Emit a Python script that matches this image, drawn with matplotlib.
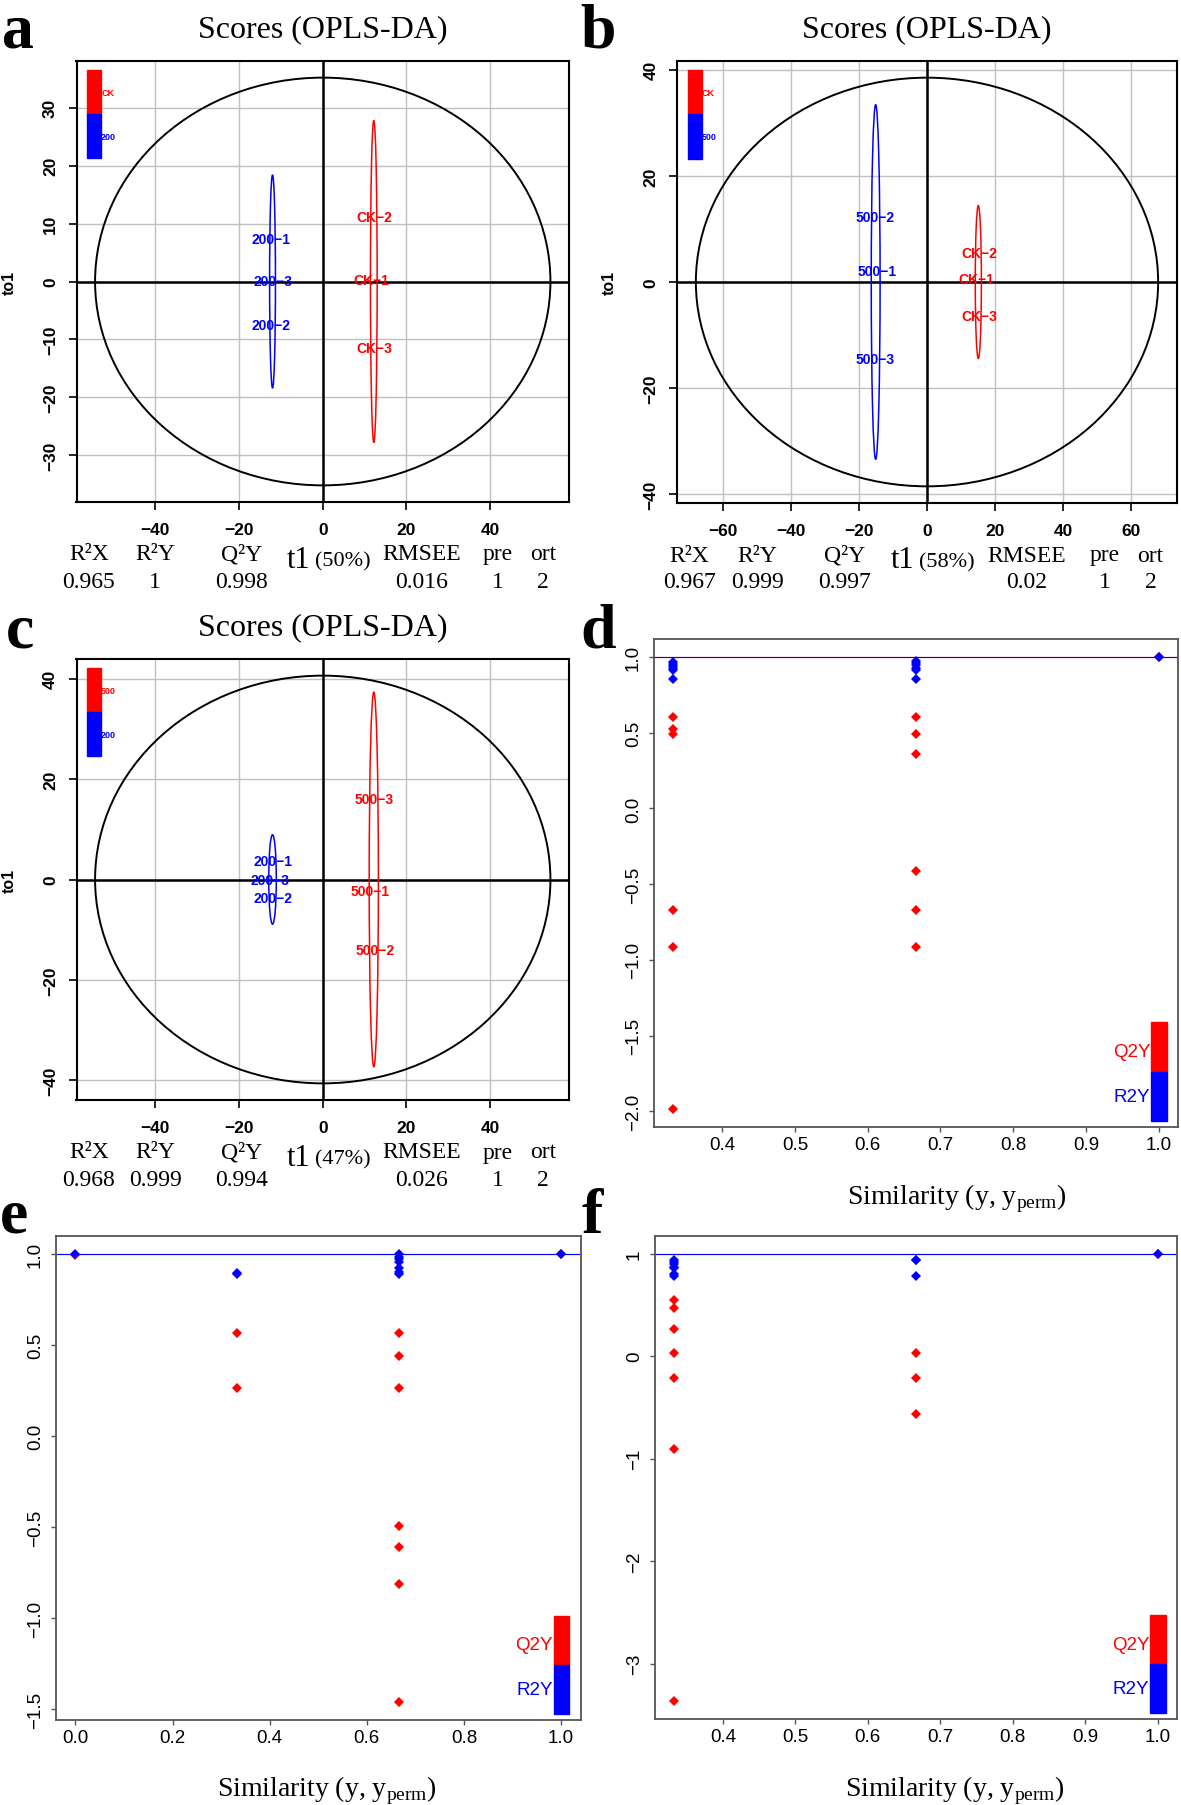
import matplotlib
matplotlib.use('Agg')
import matplotlib.pyplot as plt
from matplotlib.patches import Ellipse, Rectangle

W, H = 1181, 1806
SERIF = 'Liberation Serif'
SANS = 'Liberation Sans'
plt.rcParams['font.family'] = ['Liberation Sans', 'DejaVu Sans']
plt.rcParams['mathtext.fontset'] = 'custom'
plt.rcParams['mathtext.rm'] = 'Liberation Serif'

# ---- score plots (a, b, c) ----
# Hotelling ellipse half axes (t1, to1)
a_hot = (54.4, 35.2)
b_hot = (68.0, 38.5)
c_hot = (54.4, 40.6)

# group ellipses: centre x, half width, half height
a_groups = [(-12.0, 0.7, 18.4), (12.2, 0.8, 27.8)]
b_groups = [(-15.1, 1.3, 33.4), (15.1, 0.9, 14.4)]
c_groups = [(-12.0, 0.9, 8.9), (12.2, 1.1, 37.3)]

# sample scores and names
a_names = ['200-1', '200-3', '200-2', 'CK-2', 'CK-1', 'CK-3']
a_t1 = [-12.4, -11.8, -12.3, 12.3, 11.7, 12.3]
a_to1 = [7.4, 0.0, -7.5, 11.1, 0.3, -11.5]
a_grp = [0, 0, 0, 1, 1, 1]

b_names = ['500-2', '500-1', '500-3', 'CK-2', 'CK-1', 'CK-3']
b_t1 = [-15.4, -14.6, -15.4, 15.3, 14.6, 15.3]
b_to1 = [12.3, 2.0, -14.6, 5.5, 0.6, -6.4]
b_grp = [0, 0, 0, 1, 1, 1]

c_names = ['200-1', '200-3', '200-2', '500-3', '500-1', '500-2']
c_t1 = [-12.0, -12.6, -11.9, 12.3, 11.4, 12.4]
c_to1 = [3.6, -0.1, -3.6, 16.0, -2.2, -14.1]
c_grp = [0, 0, 0, 1, 1, 1]

a_legend = ['CK', '200']
b_legend = ['CK', '500']
c_legend = ['500', '200']

a_xticks = [-40, -20, 0, 20, 40]
a_yticks = [-30, -20, -10, 0, 10, 20, 30]
b_xticks = [-60, -40, -20, 0, 20, 40, 60]
b_yticks = [-40, -20, 0, 20, 40]
c_xticks = [-40, -20, 0, 20, 40]
c_yticks = [-40, -20, 0, 20, 40]

stat_names = ['R\u00b2X', 'R\u00b2Y', 'Q\u00b2Y', 'RMSEE', 'pre', 'ort']
a_stats = ['0.965', '1', '0.998', '0.016', '1', '2']
b_stats = ['0.967', '0.999', '0.997', '0.02', '1', '2']
c_stats = ['0.968', '0.999', '0.994', '0.026', '1', '2']
a_t1pct = '(50%)'
b_t1pct = '(58%)'
c_t1pct = '(47%)'

# ---- permutation plots (d, e, f) ----
d_q_x = [0.333] * 6 + [0.667] * 6 + [1.0]
d_q_y = [0.604, 0.523, 0.495, -0.672, -0.912, -1.985,
         0.604, 0.492, 0.361, -0.412, -0.672, -0.912, 0.998]
d_r_x = [0.333] * 6 + [0.667] * 6 + [1.0]
d_r_y = [0.97, 0.955, 0.94, 0.925, 0.915, 0.856,
         0.975, 0.96, 0.945, 0.925, 0.915, 0.856, 1.0]
d_q_real, d_r_real = 0.998, 1.0

e_q_x = [0.0] + [0.333] * 2 + [0.667] * 7 + [1.0]
e_q_y = [0.994, 0.565, 0.265,
         0.565, 0.439, 0.265, -0.494, -0.609, -0.813, -1.458, 0.997]
e_r_x = [0.0] + [0.333] * 2 + [0.667] * 7 + [1.0]
e_r_y = [1.0, 0.893, 0.89,
         1.0, 0.985, 0.97, 0.955, 0.92, 0.9, 0.89, 0.999]
e_q_real, e_r_real = 0.997, 0.999

f_q_x = [0.333] * 7 + [0.667] * 3 + [1.0]
f_q_y = [0.545, 0.466, 0.265, 0.034, -0.209, -0.91, -3.366,
         0.034, -0.209, -0.563, 0.994]
f_r_x = [0.333] * 7 + [0.667] * 3 + [1.0]
f_r_y = [0.937, 0.915, 0.9, 0.875, 0.858, 0.8, 0.784,
         0.937, 0.937, 0.784, 0.999]
f_q_real, f_r_real = 0.994, 0.999

d_xticks = [0.4, 0.5, 0.6, 0.7, 0.8, 0.9, 1.0]
d_yticks = [-2.0, -1.5, -1.0, -0.5, 0.0, 0.5, 1.0]
e_xticks = [0.0, 0.2, 0.4, 0.6, 0.8, 1.0]
e_yticks = [-1.5, -1.0, -0.5, 0.0, 0.5, 1.0]
f_xticks = [0.4, 0.5, 0.6, 0.7, 0.8, 0.9, 1.0]
f_yticks = [-3, -2, -1, 0, 1]

GROUP_COLORS = ['blue', 'red']


def px_box(left, top, right, bottom):
    return [left / W, 1 - bottom / H, (right - left) / W, (bottom - top) / H]


def minus(s):
    return s.replace('-', '\u2212')


fig = plt.figure(figsize=(W / 100, H / 100), dpi=100)


def score_panel(box, hot, groups, names, t1, to1, grp, legend, xticks, yticks,
                stats, pct):
    ax = fig.add_axes(box)
    lim_x = hot[0] * 1.04 * 1.04
    lim_y = hot[1] * 1.04 * 1.04
    ax.set_xlim(-lim_x, lim_x)
    ax.set_ylim(-lim_y, lim_y)
    ax.set_xticks(xticks)
    ax.set_xticklabels([minus(str(v)) for v in xticks], fontweight='bold',
                       fontsize=12.5)
    ax.set_yticks(yticks)
    ax.set_yticklabels([minus(str(v)) for v in yticks], fontweight='bold',
                       fontsize=12.5, rotation=90, va='center')
    ax.grid(True, color='#c0c0c0', lw=1.0)
    ax.set_axisbelow(True)
    ax.axhline(0, color='black', lw=1.8, zorder=2)
    ax.axvline(0, color='black', lw=1.8, zorder=2)
    ax.add_patch(Ellipse((0, 0), 2 * hot[0], 2 * hot[1], fill=False,
                         ec='black', lw=1.4, zorder=3))
    for (cx, hw, hh), col in zip(groups, GROUP_COLORS):
        ax.add_patch(Ellipse((cx, 0), 2 * hw, 2 * hh, fill=False,
                             ec=col, lw=1.1, zorder=3))
    for n, x, y, g in zip(names, t1, to1, grp):
        ax.text(x, y, minus(n), color=GROUP_COLORS[g], fontsize=10,
                fontweight='bold', ha='center', va='center', zorder=4)
    # colour legend, top-left
    leg_cols = ['red', 'blue']
    for i, (lab, col) in enumerate(zip(legend, leg_cols)):
        y0 = 0.879 - i * 0.1
        ax.add_patch(Rectangle((0.021, y0), 0.029, 0.1, transform=ax.transAxes,
                               color=col, zorder=5))
        ax.text(0.05, y0 + 0.05, lab, transform=ax.transAxes, color=col,
                fontsize=6.5, fontweight='bold', va='center',
                ha='left', zorder=6)
    for s in ax.spines.values():
        s.set_linewidth(1.5)
    ax.tick_params(axis='x', length=5.8, width=1.2, pad=8.5)
    ax.tick_params(axis='y', length=5.8, width=1.2, pad=7.5)
    ax.set_ylabel('to1', fontsize=11.5, fontweight='bold')
    ax.yaxis.set_label_coords(-0.121, 0.5)
    ax.set_title('Scores (OPLS-DA)', family=SERIF, fontsize=23, pad=17.5)

    # model summary under the x axis
    pos = ax.get_position()
    cols = [0.025, 0.16, 0.335, 0.70, 0.855, 0.947]
    y1 = pos.y0 - 52 / H
    y2 = pos.y0 - 79 / H
    for c, n, v in zip(cols, stat_names, stats):
        xx = pos.x0 + c * pos.width
        fig.text(xx, y1, n, family=SERIF, fontsize=17, ha='center', va='center')
        fig.text(xx, y2, v, family=SERIF, fontsize=17, ha='center', va='center')
    fig.text(pos.x0 + 0.474 * pos.width, pos.y0 - 57 / H, 't1', family=SERIF,
             fontsize=22, ha='right', va='center')
    fig.text(pos.x0 + 0.484 * pos.width, pos.y0 - 59 / H, pct, family=SERIF,
             fontsize=16, ha='left', va='center')
    return ax


def perm_panel(box, qx, qy, rx, ry, q_real, r_real, xticks, yticks, xlab_x):
    ax = fig.add_axes(box)
    allx = qx + rx
    ally = qy + ry
    dx = (max(allx) - min(allx)) * 0.04
    dy = (max(ally) - min(ally)) * 0.04
    ax.set_xlim(min(allx) - dx, max(allx) + dx)
    ax.set_ylim(min(ally) - dy, max(ally) + dy)
    ax.axhline(q_real, color='red', lw=0.8, zorder=1)
    ax.axhline(r_real, color='blue', lw=0.8, zorder=1)
    ax.plot(qx, qy, 'D', color='red', ms=5.5, mew=0, zorder=2)
    ax.plot(rx, ry, 'D', color='blue', ms=5.5, mew=0, zorder=3)
    ax.set_xticks(xticks)
    ax.set_xticklabels([f'{v:.1f}' for v in xticks], fontsize=13.5)
    ax.set_yticks(yticks)
    if isinstance(yticks[0], float):
        ylabs = [minus(f'{v:.1f}') for v in yticks]
    else:
        ylabs = [minus(str(v)) for v in yticks]
    ax.set_yticklabels(ylabs, fontsize=13.5, rotation=90, va='center')
    for s in ax.spines.values():
        s.set_linewidth(1.3)
        s.set_color('#555555')
    ax.tick_params(axis='both', length=3.6, width=1.0, color='#555555')
    ax.tick_params(axis='x', pad=3)
    ax.tick_params(axis='y', pad=5)
    # legend bar bottom-right
    ax.add_patch(Rectangle((0.949, 0.113), 0.03, 0.102, transform=ax.transAxes,
                           color='red', zorder=5))
    ax.add_patch(Rectangle((0.949, 0.012), 0.03, 0.101, transform=ax.transAxes,
                           color='blue', zorder=5))
    ax.text(0.947, 0.155, 'Q2Y', transform=ax.transAxes, color='red',
            fontsize=13.5, ha='right', va='center')
    ax.text(0.947, 0.063, 'R2Y', transform=ax.transAxes, color='blue',
            fontsize=13.5, ha='right', va='center')
    ax.set_xlabel(r'Similarity (y, y$_{\mathrm{perm}}$)', family=SERIF,
                  fontsize=20)
    ax.xaxis.set_label_coords(xlab_x, -0.112)
    return ax


score_panel(px_box(76.5, 62, 569, 503), a_hot, a_groups, a_names, a_t1, a_to1,
            a_grp, a_legend, a_xticks, a_yticks, a_stats, a_t1pct)
score_panel(px_box(677, 62, 1177, 504), b_hot, b_groups, b_names, b_t1, b_to1,
            b_grp, b_legend, b_xticks, b_yticks, b_stats, b_t1pct)
score_panel(px_box(76.5, 660, 569, 1101), c_hot, c_groups, c_names, c_t1, c_to1,
            c_grp, c_legend, c_xticks, c_yticks, c_stats, c_t1pct)

perm_panel(px_box(654, 640, 1178, 1128), d_q_x, d_q_y, d_r_x, d_r_y,
           d_q_real, d_r_real, d_xticks, d_yticks, 0.578)
perm_panel(px_box(56, 1237, 580.5, 1720.5), e_q_x, e_q_y, e_r_x, e_r_y,
           e_q_real, e_r_real, e_xticks, e_yticks, 0.517)
perm_panel(px_box(655, 1237, 1177, 1720), f_q_x, f_q_y, f_r_x, f_r_y,
           f_q_real, f_r_real, f_xticks, f_yticks, 0.575)

# panel letters
letters = ['a', 'b', 'c', 'd', 'e', 'f']
letter_x = [2, 580, 6, 580, 0, 582]
letter_y = [48, 48, 648, 647, 1233, 1233]
for t, x, y in zip(letters, letter_x, letter_y):
    fig.text(x / W, 1 - y / H, t, family=SERIF, fontweight='bold', fontsize=46,
             ha='left', va='baseline')

fig.savefig('out.png', dpi=100)
